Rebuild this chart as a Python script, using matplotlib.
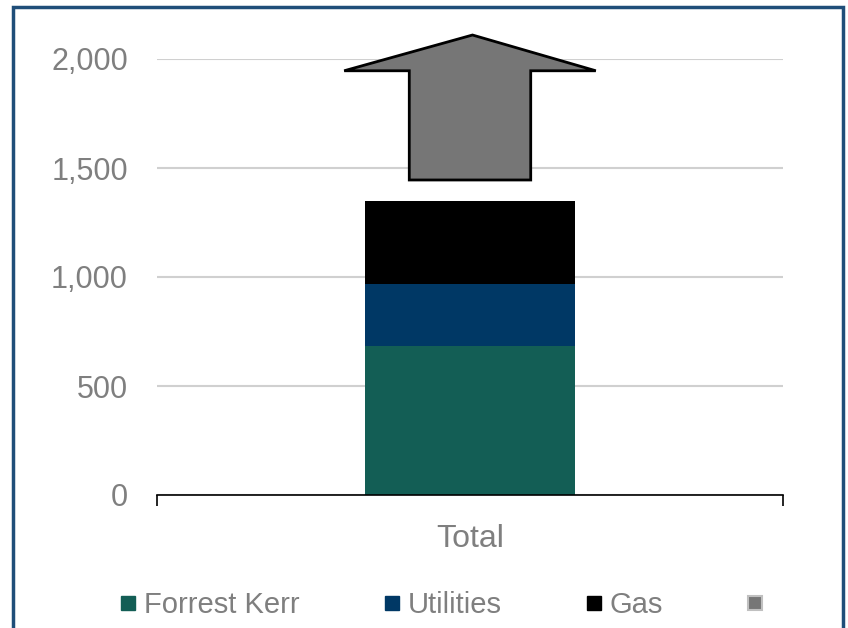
import matplotlib.pyplot as plt
import numpy as np
from matplotlib.lines import Line2D
from matplotlib.patches import Polygon, Rectangle

plt.rcParams['font.family'] = ['Liberation Sans', 'DejaVu Sans']

# data
category = 'Total'
series = ['Forrest Kerr', 'Utilities', 'Gas', '']
values = [683, 286, 381]
arrow_base = 1445
arrow_shoulder = 1946
arrow_tip = 2110

COLORS = {
    'Forrest Kerr': '#135E55',
    'Utilities': '#003865',
    'Gas': '#000000',
    'arrow': '#767676',
    'grid': '#D0D0D0',
    'text': '#7F7F7F',
    'frame': '#1F4E79',
}

fig = plt.figure(figsize=(8.48, 6.28), dpi=100)
ax = fig.add_axes([157 / 848, 1 - 495 / 628, 626 / 848, 436 / 628])

# stacked bar
bottom = 0
for name, val in zip(series[:3], values):
    ax.bar(0, val, width=0.334, bottom=bottom, color=COLORS[name], zorder=3)
    bottom += val

# growth arrow on top of the stack
body, head = 0.097, 0.201
pts = [(-body, arrow_base), (body, arrow_base), (body, arrow_shoulder),
       (head, arrow_shoulder), (0.004, arrow_tip), (-head, arrow_shoulder),
       (-body, arrow_shoulder)]
ax.add_patch(Polygon(pts, closed=True, facecolor=COLORS['arrow'], edgecolor='black',
                     linewidth=2, joinstyle='miter', zorder=4, clip_on=False))

ax.set_xlim(-0.5, 0.5)
ax.set_ylim(0, 2000)
ax.set_yticks([0, 500, 1000, 1500, 2000])
ax.set_yticklabels(['0', '500', '1,000', '1,500', '2,000'])
ax.grid(axis='y', color=COLORS['grid'], linewidth=1.5, zorder=0)
ax.tick_params(axis='y', length=0, pad=21, labelsize=22, labelcolor=COLORS['text'])

# category boundary ticks plus centered label
ax.set_xticks([-0.5, 0.5])
ax.set_xticklabels(['', ''])
ax.tick_params(axis='x', which='major', length=8, width=1.2, color='black', direction='out')
ax.set_xticks([0], minor=True)
ax.set_xticklabels([category], minor=True)
ax.tick_params(axis='x', which='minor', length=0, pad=21, labelsize=23, labelcolor=COLORS['text'])

for s in ['top', 'right', 'left']:
    ax.spines[s].set_visible(False)
ax.spines['bottom'].set_color('black')
ax.spines['bottom'].set_linewidth(1.2)
ax.spines['bottom'].set_zorder(5)

handles = [Line2D([], [], linestyle='none', marker='s', markersize=10,
                  markerfacecolor=COLORS[n], markeredgecolor=COLORS[n]) for n in series[:3]]
handles.append(Line2D([], [], linestyle='none', marker='s', markersize=10,
                      markerfacecolor=COLORS['arrow'], markeredgecolor='#C0C0C0',
                      markeredgewidth=1.5))
fig.legend(handles, series, loc='center left', bbox_to_anchor=(119 / 848, 1 - 605 / 628), ncol=4,
           frameon=False, fontsize=21, labelcolor=COLORS['text'], handlelength=0.6,
           handletextpad=0.25, columnspacing=2.86, borderpad=0, borderaxespad=0)

# outer frame
fig.add_artist(Rectangle((13 / 848, -0.05), 830 / 848, 1.05 - 7 / 628, transform=fig.transFigure,
                         fill=False, edgecolor=COLORS['frame'], linewidth=2.5))

fig.savefig('out.png', dpi=100)
